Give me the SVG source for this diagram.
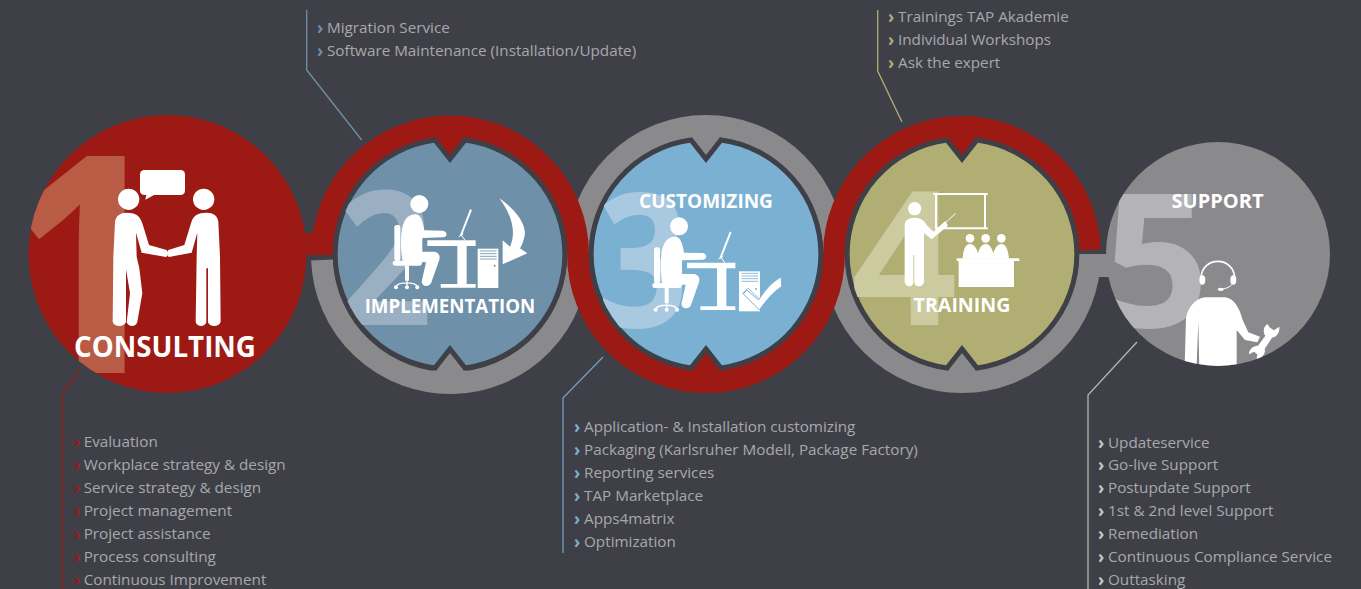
<svg xmlns="http://www.w3.org/2000/svg" xmlns:xlink="http://www.w3.org/1999/xlink" width="1361" height="589" viewBox="0 0 1361 589">
<style>
text{font-family:"Open Sans","DejaVu Sans",sans-serif}
.band{fill:none;stroke-width:22}
.red{stroke:#9c1a13}.grey{stroke:#8a8a8c}
.fr{fill:#9c1a13}.fg{fill:#8a8a8c}
.disc{stroke:#3f4047;stroke-width:5;stroke-miterlimit:6}
.num{font-weight:700;font-size:186px}
.h{font-weight:700;fill:#fff;text-anchor:middle}
.l{font-size:15.26px;fill:#a8a8ac}
.c{font-size:17px;font-weight:700}
.ln{fill:none;stroke-width:1.3}
.w{fill:#fff}
.ws{fill:none;stroke:#fff}
</style>
<defs>
<path id="notched" d="M-15,-114 L0,-95 L15,-114 A115,115 0 0 1 15,114 L0,95 L-15,114 A115,115 0 0 1 -15,-114 Z"/>
<clipPath id="c1"><circle cx="167.500" cy="254" r="139"/></clipPath>
<clipPath id="c2"><circle cx="450" cy="254" r="113"/></clipPath>
<clipPath id="c3"><circle cx="706" cy="254" r="113"/></clipPath>
<clipPath id="c4"><circle cx="962" cy="254" r="113"/></clipPath>
<clipPath id="c5"><circle cx="1218" cy="254" r="112"/></clipPath>
<g id="worker">
<circle class="w" cx="358" cy="282" r="27"/>
<path class="w" d="M303,395C303,340 318,313 345,313C362,313 368,330 373,361L430,362C443,366 443,380 430,382L367,384L367,425L402,425C420,428 422,442 416,455L393,520C385,532 366,530 365,515L378,457L310,457C304,440 303,415 303,395Z"/>
<rect class="w" x="283" y="345" width="18" height="108" rx="7"/>
<rect class="w" x="278" y="452" width="88" height="15" rx="7"/>
<rect class="w" x="315" y="467" width="12" height="45"/>
<path class="ws" stroke-width="4" d="M288,530C295,515 345,515 352,530M321,510V530"/>
<circle class="w" cx="288" cy="532" r="6"/><circle class="w" cx="321" cy="532" r="6"/><circle class="w" cx="352" cy="532" r="6"/>
<path class="w" d="M382,391H527V408H500V522H527V533H422V522H472V408H382Z"/>
<path class="ws" stroke-width="6" d="M513,299L482,378"/>
<path class="ws" stroke-width="3" d="M482,372L495,391M476,380L490,372"/>
</g>
</defs>
<rect width="1361" height="589" fill="#3f4047"/>

<g id="rings">
<rect class="fg" x="1079" y="254" width="32" height="23"/>
<path class="band grey" d="M322.100,260A128,128 0 0 0 578,254"/>
<path class="band grey" d="M578,254A128,128 0 0 1 834,254"/>
<path class="band grey" d="M834,254A128,128 0 0 0 1090,254"/>
<rect class="fr" x="300" y="233" width="36" height="22"/>
<path class="band red" d="M322,255A128,128 0 0 1 578,254A128,128 0 0 0 834,254A128,128 0 0 1 1089.900,250"/>
</g>

<g id="node1">
<circle class="fr" cx="167.500" cy="254" r="139"/>
<text x="-1" y="373" font-size="304" font-weight="700" fill="#b85c45" clip-path="url(#c1)">1</text>
<g transform="translate(0,110) scale(.33333)">
<circle class="w" cx="386" cy="268" r="32"/><circle class="w" cx="611" cy="268" r="32"/>
<rect class="w" x="420" y="180" width="135" height="75" rx="13"/>
<path class="w" d="M440,250L436,269L462,255Z"/>
<path class="w" d="M345,335C348,316 362,308 380,308C405,308 420,316 427,340L447,405L500,420C506,428 504,438 498,441L425,428L408,368L410,440L418,475L427,550L412,635C408,652 385,652 380,637L390,550L378,478V637C372,652 342,652 338,635L340,440Z"/>
<path class="w" d="M655,335C652,316 640,308 620,308C595,308 578,316 573,340L553,405L505,420C499,428 501,438 507,441L575,428L592,368L590,440L587,635C590,652 615,652 619,637V475H624V637C628,652 658,652 662,635L660,440Z"/>
</g>
<text class="h" x="165" y="356.500" font-size="27.700">CONSULTING</text>
</g>

<g id="node2">
<path class="fr" d="M430,132H470L450,166Z"/>
<path class="fg" d="M430,376H470L450,342Z"/>
<use xlink:href="#notched" href="#notched" transform="translate(450,254)" class="disc" fill="#6e90a8"/>
<g clip-path="url(#c2)"><text class="num" transform="translate(337,325) scale(.9,1)" fill="#9ab0c2">2</text></g>
<g transform="translate(300,110) scale(.33333)">
<use xlink:href="#worker" href="#worker"/>
<rect class="w" x="533" y="416" width="62" height="118"/>
<path fill="none" stroke="#6e90a8" stroke-width="2.500" d="M540,423H590M540,431H590M540,439H590M540,447H590"/>
<circle cx="584" cy="467" r="3" fill="#6e90a8"/>
<path class="w" d="M598,265C650,300 685,350 672,385C668,400 664,410 660,415L682,430L608,463V391L630,410C650,365 635,315 598,265Z"/>
</g>
<text class="h" x="450" y="313" font-size="18.700">IMPLEMENTATION</text>
</g>

<g id="node3">
<path class="fg" d="M686,132H726L706,166Z"/>
<path class="fr" d="M686,376H726L706,342Z"/>
<use xlink:href="#notched" href="#notched" transform="translate(706,254)" class="disc" fill="#7ab1d3"/>
<g clip-path="url(#c3)"><text class="num" transform="translate(597,327) scale(.86,1)" fill="#a9c9e0">3</text></g>
<g transform="translate(559.700,132.300) scale(.33333)">
<use xlink:href="#worker" href="#worker"/>
</g>
<g transform="translate(570,110) scale(.33333)">
<rect class="w" x="507" y="484" width="63" height="120"/>
<path fill="none" stroke="#7ab1d3" stroke-width="2.500" d="M514,490H564M514,498H564M514,506H564M514,514H564"/>
<circle cx="558" cy="537" r="3" fill="#7ab1d3"/>
<path fill="none" stroke="#7ab1d3" stroke-width="2.500" d="M517,550L535,535L566,565"/>
<path class="w" stroke="#7ab1d3" stroke-width="3" d="M634,501C605,515 582,545 566,570L530,540L520,552L568,600C590,570 610,545 635,530Z"/>
</g>
<text class="h" x="706" y="208" font-size="19">CUSTOMIZING</text>
</g>

<g id="node4">
<path class="fr" d="M942,132H982L962,166Z"/>
<path class="fg" d="M942,376H982L962,342Z"/>
<use xlink:href="#notched" href="#notched" transform="translate(962,254)" class="disc" fill="#b0ae72"/>
<g clip-path="url(#c4)"><text class="num" x="851" y="325" fill="#cccb9f">4</text></g>
<g transform="translate(820,110) scale(.33333)">
<circle class="w" cx="284" cy="296" r="20"/>
<path class="w" d="M254,345C254,330 268,323 285,323C305,323 315,335 320,345L340,365L376,333L384,347L335,388L312,370V515C310,533 285,533 283,518V435H280V518C278,533 256,533 254,515Z"/>
<path class="ws" stroke-width="3" d="M378,337L407,310"/>
<path class="w" fill-rule="evenodd" d="M340,249H503V255H498V352H503V358H345V255H340ZM351,255V352H492V255Z"/>
<circle class="w" cx="450" cy="385" r="13"/><circle class="w" cx="497" cy="385" r="13"/><circle class="w" cx="544" cy="385" r="13"/>
<path class="w" d="M428,446C430,415 438,402 450,402C462,402 470,415 474,430C478,415 485,402 497,402C509,402 516,415 520,430C524,415 532,402 544,402C556,402 564,415 567,446Z"/>
<path class="w" d="M410,445H598V453H582V531H416V453H410Z"/>
</g>
<text class="h" x="962" y="312" font-size="19.600">TRAINING</text>
</g>

<g id="node5">
<circle class="fg" cx="1218" cy="254" r="112"/>
<g clip-path="url(#c5)"><text class="num" x="1103" y="327" fill="#b3b3b8">5</text></g>
<g clip-path="url(#c5)"><g transform="translate(1180,255) scale(.33333)">
<path class="ws" stroke-width="5" d="M63,70C65,2 162,2 164,70"/>
<ellipse class="w" cx="67" cy="75" rx="9" ry="14"/><ellipse class="w" cx="160" cy="75" rx="9" ry="14"/>
<path class="ws" stroke-width="3" d="M156,88C150,97 135,102 120,103"/>
<ellipse class="w" cx="122" cy="103" rx="9" ry="5"/>
<path class="w" d="M14,330L18,190C22,160 45,130 75,127H135C160,130 178,155 188,195L205,232L240,245L232,262L195,255L170,225V345H58L55,200L50,330Z"/>
<path class="w" d="M262,207C250,215 248,232 256,242L234,272C218,272 206,285 207,298L222,290L232,298L230,312C245,310 258,295 254,282L276,248C290,248 300,232 298,215L282,226L270,218Z"/>
</g></g>
<text class="h" x="1217.500" y="208" font-size="20">SUPPORT</text>
</g>

<g id="connectors">
<path class="ln" stroke="#8e1c18" d="M80,370L62.500,393V589"/>
<path class="ln" stroke="#6e90a8" d="M306.700,10V70L361.700,140"/>
<path class="ln" stroke="#6e9fc0" d="M603,357L563,398V553"/>
<path class="ln" stroke="#b0ae72" d="M877.700,10V71L902,122"/>
<path class="ln" stroke="#b4b4b4" d="M1137,342L1088,395V589"/>
</g>

<g id="list1">
<g class="c" fill="#9c1a13"><text x="74" y="448">›</text><text x="74" y="471">›</text><text x="74" y="494">›</text><text x="74" y="517">›</text><text x="74" y="540">›</text><text x="74" y="563">›</text><text x="74" y="586">›</text></g>
<g class="l"><text x="83.700" y="447">Evaluation</text><text x="83.700" y="470">Workplace strategy &amp; design</text><text x="83.700" y="493">Service strategy &amp; design</text><text x="83.700" y="516">Project management</text><text x="83.700" y="539">Project assistance</text><text x="83.700" y="562">Process consulting</text><text x="83.700" y="585">Continuous Improvement</text></g>
</g>
<g id="list2">
<g class="c" fill="#6e90a8"><text x="317" y="34">›</text><text x="317" y="57">›</text></g>
<g class="l"><text x="327" y="33">Migration Service</text><text x="327" y="56">Software Maintenance (Installation/Update)</text></g>
</g>
<g id="list3">
<g class="c" fill="#7ab1d3"><text x="574" y="433">›</text><text x="574" y="456">›</text><text x="574" y="479">›</text><text x="574" y="502">›</text><text x="574" y="525">›</text><text x="574" y="548">›</text></g>
<g class="l"><text x="584" y="432">Application- &amp; Installation customizing</text><text x="584" y="455">Packaging (Karlsruher Modell, Package Factory)</text><text x="584" y="478">Reporting services</text><text x="584" y="501">TAP Marketplace</text><text x="584" y="524">Apps4matrix</text><text x="584" y="547">Optimization</text></g>
</g>
<g id="list4">
<g class="c" fill="#b0ae72"><text x="888" y="23">›</text><text x="888" y="46">›</text><text x="888" y="69">›</text></g>
<g class="l"><text x="898" y="22">Trainings TAP Akademie</text><text x="898" y="45">Individual Workshops</text><text x="898" y="68">Ask the expert</text></g>
</g>
<g id="list5">
<g class="c" fill="#c8c8c8"><text x="1098" y="449">›</text><text x="1098" y="471">›</text><text x="1098" y="494">›</text><text x="1098" y="517">›</text><text x="1098" y="540">›</text><text x="1098" y="563">›</text><text x="1098" y="586">›</text></g>
<g class="l"><text x="1108" y="448">Updateservice</text><text x="1108" y="470">Go-live Support</text><text x="1108" y="493">Postupdate Support</text><text x="1108" y="516">1st &amp; 2nd level Support</text><text x="1108" y="539">Remediation</text><text x="1108" y="562">Continuous Compliance Service</text><text x="1108" y="585">Outtasking</text></g>
</g>
</svg>
